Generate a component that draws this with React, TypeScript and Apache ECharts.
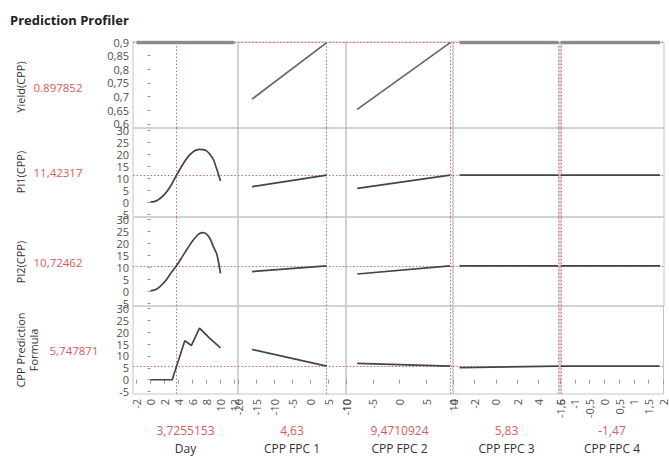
import React, { useEffect, useRef } from 'react';
import * as echarts from 'echarts';

// ---- factors (columns) ----
const factorNames = ['Day', 'CPP FPC 1', 'CPP FPC 2', 'CPP FPC 3', 'CPP FPC 4'];
const factorCurrent = [3.7255153, 4.63, 9.4710924, 5.83, -1.47];
const factorCurrentText = ['3,7255153', '4,63', '9,4710924', '5,83', '-1,47'];
const factorMin = [-2.5, -20, -10, -4, -1.5];
const factorMax = [12.5, 10, 10, 6, 2];
const dayTicks = [-2, 0, 2, 4, 6, 8, 10, 12];
const fpc1Ticks = [-20, -15, -10, -5, 0, 5, 10];
const fpc2Ticks = [-10, -5, 0, 5, 10];
const fpc3Ticks = [-4, -2, 0, 2, 4, 6];
const fpc4Ticks = [-1.5, -1, -0.5, 0, 0.5, 1, 1.5, 2];
const factorTicks = [dayTicks, fpc1Ticks, fpc2Ticks, fpc3Ticks, fpc4Ticks];

// ---- responses (rows) ----
const responseNames = ['Yield(CPP)', 'Pl1(CPP)', 'Pl2(CPP)', 'CPP Prediction\nFormula'];
const responseCurrent = [0.897852, 11.42317, 10.72462, 5.747871];
const responseCurrentText = ['0.897852', '11,42317', '10,72462', '5,747871'];
const responseMin = [0.585, -6, -6, -6];
const responseMax = [0.9, 31, 31, 31];
const yieldTicks = [0.6, 0.65, 0.7, 0.75, 0.8, 0.85, 0.9];
const plTicks = [-5, 0, 5, 10, 15, 20, 25, 30];
const responseTicks = [yieldTicks, plTicks, plTicks, plTicks];

// ---- profile traces ----
const yieldDay = [[-2, 0.8979], [12, 0.8979]];
const yieldFpc1 = [[-16.1, 0.691], [4.63, 0.8979]];
const yieldFpc2 = [[-7.9, 0.653], [9.47, 0.8979]];
const yieldFpc3 = [[-3.4, 0.8979], [5.83, 0.8979]];
const yieldFpc4 = [[-1.47, 0.8979], [1.87, 0.8979]];

const pl1Day = [[0, 0.3], [0.5, 0.4], [1, 1.0], [1.5, 2.0], [2, 3.4], [2.5, 5.2], [3, 7.5], [3.5, 10.2], [4, 12.8], [4.5, 15.3], [5, 17.6], [5.5, 19.5], [6, 20.9], [6.5, 21.8], [7, 22.1], [7.5, 22.0], [8, 21.5], [8.5, 20.0], [9, 17.8], [9.5, 13.6], [10, 9.0]];
const pl1Fpc1 = [[-16.1, 6.6], [4.63, 11.42]];
const pl1Fpc2 = [[-7.9, 5.9], [9.47, 11.42]];
const pl1Fpc3 = [[-3.4, 11.42], [5.83, 11.42]];
const pl1Fpc4 = [[-1.47, 11.42], [1.87, 11.42]];

const pl2Day = [[0, 0.3], [0.5, 0.6], [1, 1.3], [1.5, 2.5], [2, 4.0], [2.5, 5.9], [3, 8.0], [3.5, 9.9], [4, 12.0], [4.5, 14.3], [5, 16.6], [5.5, 18.9], [6, 21.0], [6.5, 22.8], [7, 24.1], [7.5, 24.5], [8, 23.9], [8.5, 22.0], [9, 18.6], [9.5, 15.3], [10, 7.6]];
const pl2Fpc1 = [[-16.1, 8.3], [4.63, 10.72]];
const pl2Fpc2 = [[-7.9, 7.3], [9.47, 10.72]];
const pl2Fpc3 = [[-3.4, 10.72], [5.83, 10.72]];
const pl2Fpc4 = [[-1.47, 10.72], [1.87, 10.72]];

const cppDay = [[0, 0], [3.1, 0], [4.9, 16.4], [5.85, 14.4], [7.0, 21.7], [8.4, 17.6], [10, 13.4]];
const cppFpc1 = [[-16.1, 12.7], [4.63, 5.75]];
const cppFpc2 = [[-7.9, 6.9], [9.47, 5.75]];
const cppFpc3 = [[-3.4, 5.1], [5.83, 5.75]];
const cppFpc4 = [[-1.47, 5.75], [1.87, 5.75]];

const profiles = [
  [yieldDay, yieldFpc1, yieldFpc2, yieldFpc3, yieldFpc4],
  [pl1Day, pl1Fpc1, pl1Fpc2, pl1Fpc3, pl1Fpc4],
  [pl2Day, pl2Fpc1, pl2Fpc2, pl2Fpc3, pl2Fpc4],
  [cppDay, cppFpc1, cppFpc2, cppFpc3, cppFpc4],
];

// ---- layout ----
const colX = [133, 238, 346, 453, 560, 664];
const rowY = [42, 128, 217, 306, 394];
const FONT = '"Open Sans", "Noto Sans", sans-serif';
const RED = '#dc5a5a';
const RED_LINE = '#e06a6a';

const fmt = (v: number) => String(+Number(v).toFixed(3)).replace('.', ',');

function buildOption() {
  const grid: any[] = [];
  const xAxis: any[] = [];
  const yAxis: any[] = [];
  const series: any[] = [];
  for (let r = 0; r < 4; r++) {
    for (let c = 0; c < 5; c++) {
      const i = r * 5 + c;
      grid.push({
        left: colX[c], top: rowY[r],
        width: colX[c + 1] - colX[c], height: rowY[r + 1] - rowY[r],
        show: true, borderColor: '#c4c4c4', borderWidth: 1, backgroundColor: 'transparent',
      });
      xAxis.push({
        type: 'value', gridIndex: i, min: factorMin[c], max: factorMax[c],
        axisLine: { show: false }, splitLine: { show: false },
        axisTick: { show: r === 3, length: 4, customValues: factorTicks[c], lineStyle: { color: '#9a9a9a' } },
        axisLabel: {
          show: r === 3, rotate: 90, customValues: factorTicks[c], formatter: fmt,
          fontSize: 11, color: '#505050', fontFamily: FONT, margin: 5,
        },
      });
      yAxis.push({
        type: 'value', gridIndex: i, min: responseMin[r], max: responseMax[r],
        axisLine: { show: false }, splitLine: { show: false },
        axisTick: { show: c === 0, length: 3, customValues: responseTicks[r], lineStyle: { color: '#9a9a9a' } },
        axisLabel: {
          show: c === 0, customValues: responseTicks[r], formatter: fmt,
          fontSize: 11, color: '#505050', fontFamily: FONT, margin: 4,
        },
      });
      const thickFlat = r === 0 && (c === 0 || c >= 3);
      series.push({
        type: 'line', xAxisIndex: i, yAxisIndex: i, z: 1,
        data: [[factorCurrent[c], responseCurrent[r]]], symbol: 'none',
        lineStyle: { width: 0 },
        markLine: {
          silent: true, z: 1, symbol: ['none', 'none'], label: { show: false },
          lineStyle: { color: RED_LINE, type: [1.5, 2], width: 1 },
          data: [{ xAxis: factorCurrent[c] }, { yAxis: responseCurrent[r] }],
        },
      });
      series.push({
        type: 'line', xAxisIndex: i, yAxisIndex: i, z: 6,
        data: profiles[r][c], showSymbol: false, symbol: 'none',
        smooth: c === 0 && (r === 1 || r === 2) ? 0.2 : false,
        lineStyle: thickFlat
          ? { color: '#8c8c8c', width: 3.5 }
          : { color: r === 0 ? '#666' : '#444', width: 1.7 },
      });
    }
  }

  const graphic: any[] = [
    { type: 'text', left: 10, top: 13, style: { text: 'Prediction Profiler', font: `bold 13px ${FONT}`, fill: '#222' } },
  ];
  const rowCenterY = [87, 172, 262, 350];
  const valueX = [58, 58, 58, 74];
  for (let r = 0; r < 4; r++) {
    graphic.push({
      type: 'text', x: r === 3 ? 27 : 20, y: rowCenterY[r], rotation: Math.PI / 2,
      style: { text: responseNames[r], font: `11px ${FONT}`, fill: '#333', align: 'center', verticalAlign: 'middle', lineHeight: 13 },
    });
    graphic.push({
      type: 'text', x: valueX[r], y: rowCenterY[r],
      style: { text: responseCurrentText[r], font: `11.5px ${FONT}`, fill: RED, align: 'center', verticalAlign: 'middle' },
    });
  }
  for (let c = 0; c < 5; c++) {
    const cx = (colX[c] + colX[c + 1]) / 2;
    graphic.push({
      type: 'text', x: cx, y: 430,
      style: { text: factorCurrentText[c], font: `12px ${FONT}`, fill: RED, align: 'center', verticalAlign: 'middle' },
    });
    graphic.push({
      type: 'text', x: cx, y: 448,
      style: { text: factorNames[c], font: `12px ${FONT}`, fill: '#333', align: 'center', verticalAlign: 'middle' },
    });
  }

  return { animation: false, backgroundColor: '#fff', grid, xAxis, yAxis, series, graphic };
}

export default function App() {
  const ref = useRef<HTMLDivElement>(null);
  useEffect(() => {
    if (!ref.current) return;
    const chart = echarts.init(ref.current, undefined, { renderer: 'svg' });
    chart.setOption(buildOption() as any);
    return () => chart.dispose();
  }, []);
  return <div ref={ref} style={{ position: 'absolute', left: 0, top: 0, width: '669px', height: '470px' }} />;
}
